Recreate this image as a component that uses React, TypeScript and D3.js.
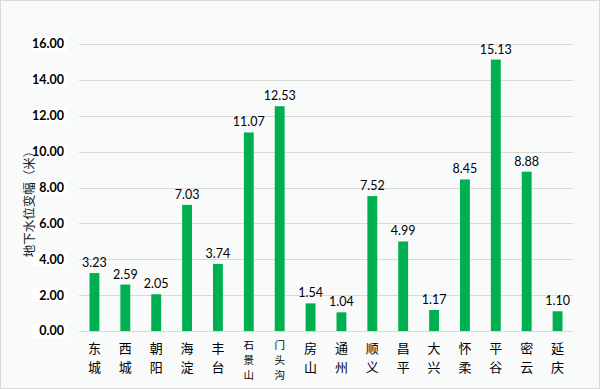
import React, { useEffect, useRef } from 'react';
import * as d3 from 'd3';

const districts = ['东城', '西城', '朝阳', '海淀', '丰台', '石景山', '门头沟', '房山', '通州', '顺义', '昌平', '大兴', '怀柔', '平谷', '密云', '延庆'];
const changes = [3.23, 2.59, 2.05, 7.03, 3.74, 11.07, 12.53, 1.54, 1.04, 7.52, 4.99, 1.17, 8.45, 15.13, 8.88, 1.10];
const yTicks = [0, 2, 4, 6, 8, 10, 12, 14, 16];
const yTitle = '地下水位变幅（米）';

export default function App() {
  const chartRef = useRef<SVGSVGElement>(null);

  useEffect(() => {
    document.body.style.margin = '0';
    const width = 600;
    const height = 389;
    const margin = { top: 44, right: 27, bottom: 58, left: 79 };
    const innerHeight = height - margin.top - margin.bottom;

    const svg = d3.select(chartRef.current);
    svg.selectAll('*').remove();
    svg.attr('width', width).attr('height', height);

    svg.append('rect')
      .attr('x', 0.5).attr('y', 0.5)
      .attr('width', width - 1).attr('height', height - 1)
      .attr('fill', '#f9fafa')
      .attr('stroke', '#d9d9d9');

    const xScale = d3.scaleBand()
      .domain(districts)
      .range([margin.left, width - margin.right])
      .paddingInner(0.68)
      .paddingOuter(0.34);

    const yScale = d3.scaleLinear()
      .domain([0, 16])
      .range([margin.top + innerHeight, margin.top]);

    // gridlines
    svg.append('g')
      .selectAll('line')
      .data(yTicks)
      .enter()
      .append('line')
      .attr('x1', margin.left)
      .attr('x2', width - margin.right)
      .attr('y1', d => Math.round(yScale(d)) + 0.5)
      .attr('y2', d => Math.round(yScale(d)) + 0.5)
      .attr('stroke', '#d9d9d9')
      .attr('stroke-width', 1);

    // tick labels with white boxes behind
    const ticks = svg.append('g');
    ticks.selectAll('rect')
      .data(yTicks)
      .enter()
      .append('rect')
      .attr('x', 32)
      .attr('y', d => yScale(d) - 7)
      .attr('width', 35)
      .attr('height', 14)
      .attr('fill', '#ffffff');
    ticks.selectAll('text')
      .data(yTicks)
      .enter()
      .append('text')
      .attr('x', 64)
      .attr('y', d => yScale(d))
      .attr('dy', '0.35em')
      .attr('text-anchor', 'end')
      .attr('font-family', 'Lato, "Open Sans", sans-serif')
      .attr('font-weight', 'bold')
      .attr('font-size', 12.5)
      .attr('fill', '#000')
      .text(d => d.toFixed(2));

    // bars
    svg.append('g')
      .selectAll('rect')
      .data(changes)
      .enter()
      .append('rect')
      .attr('x', (d, i) => xScale(districts[i]))
      .attr('y', d => yScale(d))
      .attr('width', xScale.bandwidth())
      .attr('height', d => yScale(0) - yScale(d))
      .attr('fill', '#00b050');

    // value labels
    svg.append('g')
      .selectAll('text')
      .data(changes)
      .enter()
      .append('text')
      .attr('x', (d, i) => xScale(districts[i]) + xScale.bandwidth() / 2)
      .attr('y', d => yScale(d) - 6)
      .attr('text-anchor', 'middle')
      .attr('font-family', 'Lato, "Open Sans", sans-serif')
      .attr('font-size', 12.5)
      .attr('fill', '#000')
      .text(d => d.toFixed(2));

    // category labels, one character per line
    const cats = svg.append('g');
    districts.forEach(name => {
      const cx = xScale(name) + xScale.bandwidth() / 2;
      const chars = name.split('');
      const long = chars.length > 2;
      const step = long ? 15 : 19;
      const start = long ? 345 : 348;
      chars.forEach((ch, j) => {
        cats.append('text')
          .attr('x', cx)
          .attr('y', start + j * step)
          .attr('dy', '0.35em')
          .attr('text-anchor', 'middle')
          .attr('font-family', '"Noto Sans CJK SC", sans-serif')
          .attr('font-size', long ? 10.5 : 13)
          .attr('fill', '#000')
          .text(ch);
      });
    });

    // y axis title
    svg.append('text')
      .attr('transform', 'translate(30, 201) rotate(-90)')
      .attr('text-anchor', 'middle')
      .attr('dy', '0.35em')
      .attr('font-family', '"Noto Sans CJK SC", sans-serif')
      .attr('font-size', 12.5)
      .attr('fill', '#222')
      .text(yTitle);
  }, []);

  return <svg ref={chartRef} style={{ display: 'block' }} />;
}
